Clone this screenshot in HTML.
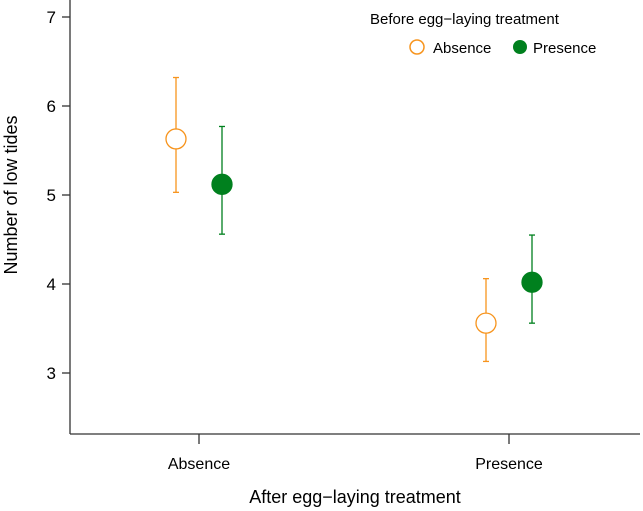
<!DOCTYPE html>
<html><head><meta charset="utf-8"><style>
body{margin:0;background:#fff;}
svg{display:block;font-family:"Liberation Sans",Arial,sans-serif;}
</style></head><body>
<svg id="chart" width="643" height="511" viewBox="0 0 643 511">
<g id="axes"></g>
<g id="marks"></g>
<text transform="translate(17,195) rotate(-90)" text-anchor="middle" font-size="18" fill="#000">Number of low tides</text>
<text x="355" y="503" text-anchor="middle" font-size="18" fill="#000">After egg−laying treatment</text>
<g>
<text x="370" y="24" font-size="15">Before egg−laying treatment</text>
<circle cx="417" cy="47" r="7" fill="#fff" stroke="#f7941d" stroke-width="1.5"/>
<text x="433" y="53" font-size="15">Absence</text>
<circle cx="520" cy="47" r="7" fill="#00801e"/>
<text x="533" y="53" font-size="15">Presence</text>
</g>
</svg>
<script>
const categories=["Absence","Presence"];
const groups=["Absence","Presence"];
const means=[[5.63,5.12],[3.56,4.02]];
const lowers=[[5.03,4.56],[3.13,3.56]];
const uppers=[[6.32,5.77],[4.06,4.55]];
const yTicks=[3,4,5,6,7];
const ns="http://www.w3.org/2000/svg";
const y=v=>373-(v-3)*89;
const xCat=i=>199+i*310;
const offs=[-23,23];
const colors=["#f7941d","#00801e"];
function mk(t,a,p){const e=document.createElementNS(ns,t);for(const k in a)e.setAttribute(k,a[k]);p.appendChild(e);return e;}
const ax=document.getElementById('axes');
const yl=mk('line',{x1:70,y1:0,x2:70,y2:434,stroke:'#333','stroke-width':1.3},ax);


const xl=mk('line',{x1:70,y1:434,x2:640,y2:434,stroke:'#333','stroke-width':1.3},ax);


yTicks.forEach(t=>{
const l=mk('line',{x1:62,x2:70,y1:y(t),y2:y(t),stroke:'#333','stroke-width':1.3},ax);


const tx=mk('text',{x:56,y:y(t)+6,'text-anchor':'end','font-size':17},ax);
tx.textContent=t;


});
categories.forEach((c,i)=>{
const l=mk('line',{x1:xCat(i),x2:xCat(i),y1:434,y2:444,stroke:'#333','stroke-width':1.3},ax);


const tx=mk('text',{x:xCat(i),y:469,'text-anchor':'middle','font-size':16},ax);
tx.textContent=c;


});
const mg=document.getElementById('marks');
categories.forEach((c,i)=>groups.forEach((g,j)=>{
const x=xCat(i)+offs[j],col=colors[j];
const eb=mk('g',{stroke:col,'stroke-width':1.3},mg);


mk('line',{x1:x,x2:x,y1:y(lowers[i][j]),y2:y(uppers[i][j])},eb);
mk('line',{x1:x-3,x2:x+3,y1:y(lowers[i][j]),y2:y(lowers[i][j])},eb);
mk('line',{x1:x-3,x2:x+3,y1:y(uppers[i][j]),y2:y(uppers[i][j])},eb);
const p=mk('circle',{cx:x,cy:y(means[i][j]),r:10,fill:j?col:'#fff',stroke:col,'stroke-width':1.3},mg);


}));
</script>
</body></html>
